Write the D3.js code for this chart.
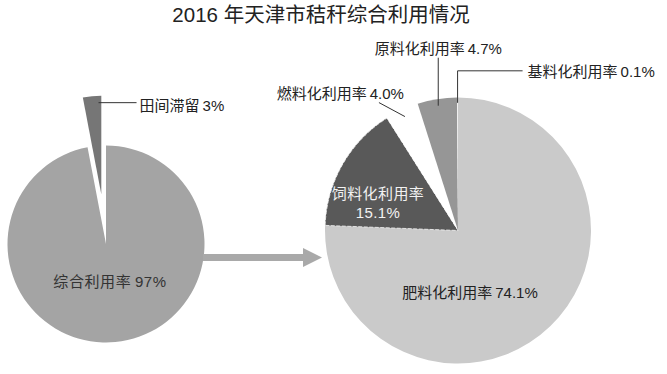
<!DOCTYPE html>
<html><head><meta charset="utf-8">
<script src="https://cdn.jsdelivr.net/npm/d3@7/dist/d3.min.js"></script>
<style>
html,body{margin:0;padding:0;background:#fff;}
svg{display:block;}
text{font-family:"Liberation Sans","Noto Sans CJK SC",sans-serif;}
</style></head>
<body>
<svg id="chart" width="667" height="374"></svg>
<script>
// ---- data ----
const title = "2016 年天津市秸秆综合利用情况";
const leftCategories = ["综合利用率", "田间滞留"];
const leftValues = [97, 3];
const rightCategories = ["肥料化利用率", "饲料化利用率", "燃料化利用率", "原料化利用率", "基料化利用率"];
const rightValues = [74.1, 15.1, 4.0, 4.7, 0.1];

// ---- styles ----
const leftColors = ["#a4a4a4", "#767676"];
const rightColors = ["#cacaca", "#595959", "#ffffff", "#969696", "#f2f2f2"];
const textDark = "#222";
const gap = "\u2009";

const svg = d3.select("#chart");

svg.append("text")
  .attr("x", 321).attr("y", 22)
  .attr("text-anchor", "middle")
  .attr("font-size", 20.5)
  .attr("fill", textDark)
  .text(title);

const pie = d3.pie().sort(null).startAngle(0).endAngle(2 * Math.PI);

// ---- left pie ----
const L = {cx: 106, cy: 244, r: 98.5, explode: 50};
const leftArcs = pie(leftValues);
const leftArc = d3.arc().innerRadius(0).outerRadius(L.r);
const gL = svg.append("g").attr("transform", `translate(${L.cx},${L.cy})`);

function offsetOf(a, dist) {
  const m = (a.startAngle + a.endAngle) / 2;
  return [Math.sin(m) * dist, -Math.cos(m) * dist];
}
function pt(angle, rad) { return [Math.sin(angle) * rad, -Math.cos(angle) * rad]; }

gL.selectAll("path").data(leftArcs).join("path")
  .attr("d", leftArc)
  .attr("fill", (d, i) => leftColors[i])
  .attr("transform", (d, i) => {
    if (i === 1) { const o = offsetOf(d, L.explode); return `translate(${o[0]},${o[1]})`; }
    return null;
  });

// label big slice
gL.append("text")
  .attr("x", 4).attr("y", 43)
  .attr("text-anchor", "middle")
  .attr("font-size", 15)
  .attr("letter-spacing", 0.6)
  .attr("fill", "#333")
  .text(leftCategories[0] + gap + leftValues[0] + "%");

// leader for small slice
{
  const a = leftArcs[1];
  const o = offsetOf(a, L.explode);
  const p = pt(a.endAngle - 0.03, L.r * 0.93);
  const sx = p[0] + o[0], sy = p[1] + o[1];
  gL.append("line")
    .attr("x1", sx).attr("y1", sy)
    .attr("x2", sx + 38).attr("y2", sy)
    .attr("stroke", "#333").attr("stroke-width", 1);
  gL.append("text")
    .attr("x", sx + 41).attr("y", sy + 8)
    .attr("font-size", 15)
    .attr("fill", textDark)
    .text(leftCategories[1] + gap + leftValues[1] + "%");
}

// ---- arrow ----
svg.append("path")
  .attr("d", "M203,254 L303,254 L303,248 L322,257.5 L303,267 L303,261 L203,261 Z")
  .attr("fill", "#a9a9a9");

// ---- right pie ----
const R = {cx: 458, cy: 230.5, r: 133};
const rightArcs = pie(rightValues);
const rightArc = d3.arc().innerRadius(0).outerRadius(R.r);
const gR = svg.append("g").attr("transform", `translate(${R.cx},${R.cy})`);

gR.selectAll("path").data(rightArcs).join("path")
  .attr("d", rightArc)
  .attr("fill", (d, i) => rightColors[i])
  .attr("stroke", (d, i) => i === 1 ? "#f4f4f4" : "none")
  .attr("stroke-width", 0.8)
  .attr("stroke-dasharray", "4,1.5");

// 肥料
gR.append("text")
  .attr("x", 12).attr("y", 67)
  .attr("text-anchor", "middle")
  .attr("font-size", 15).attr("fill", textDark)
  .text(rightCategories[0] + gap + rightValues[0].toFixed(1) + "%");

// 饲料 (inside, white)
const fed = gR.append("text")
  .attr("text-anchor", "middle")
  .attr("font-size", 15).attr("fill", "#f2f2f2")
  .attr("letter-spacing", 0.4);
fed.append("tspan").attr("x", -80).attr("y", -32).text(rightCategories[1]);
fed.append("tspan").attr("x", -80).attr("y", -13).text(rightValues[1].toFixed(1) + "%");

// 燃料 leader
{
  const a = rightArcs[2];
  const m = (a.startAngle + a.endAngle) / 2;
  const p = pt(m, R.r * 0.945);
  gR.append("line")
    .attr("x1", p[0]).attr("y1", p[1])
    .attr("x2", p[0] - 26).attr("y2", p[1] - 14)
    .attr("stroke", "#333").attr("stroke-width", 1);
  gR.append("text")
    .attr("x", p[0] - 1).attr("y", p[1] - 17.5)
    .attr("text-anchor", "end")
    .attr("font-size", 15).attr("fill", textDark)
    .text(rightCategories[2] + gap + rightValues[2].toFixed(1) + "%");
}

// 原料 leader
{
  const a = rightArcs[3];
  const m = (a.startAngle + a.endAngle) / 2;
  const p = pt(m, R.r * 0.95);
  gR.append("line")
    .attr("x1", p[0]).attr("y1", p[1])
    .attr("x2", p[0]).attr("y2", p[1] - 48)
    .attr("stroke", "#333").attr("stroke-width", 1);
  gR.append("text")
    .attr("x", p[0]).attr("y", p[1] - 52)
    .attr("text-anchor", "middle")
    .attr("font-size", 15).attr("fill", textDark)
    .text(rightCategories[3] + gap + rightValues[3].toFixed(1) + "%");
}

// 基料 leader
{
  const a = rightArcs[4];
  const m = (a.startAngle + a.endAngle) / 2;
  const p = pt(m, R.r * 0.96);
  const topY = p[1] - 32;
  gR.append("path")
    .attr("d", `M${p[0]},${p[1]} L${p[0]},${topY} L${p[0] + 65},${topY}`)
    .attr("fill", "none")
    .attr("stroke", "#333").attr("stroke-width", 1);
  gR.append("text")
    .attr("x", p[0] + 70).attr("y", topY + 6)
    .attr("font-size", 15).attr("fill", textDark)
    .text(rightCategories[4] + gap + rightValues[4].toFixed(1) + "%");
}
</script>
</body></html>
